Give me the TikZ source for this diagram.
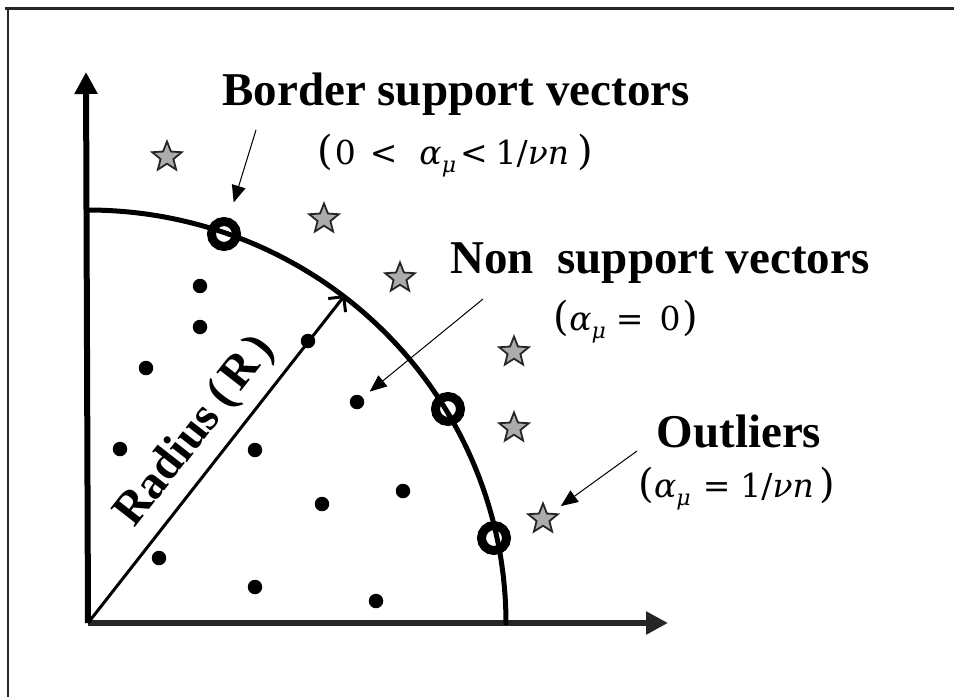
\documentclass[tikz,border=0pt]{standalone}
\usepackage{fontspec}
\setmainfont{Liberation Serif}
\newfontfamily\fmf{DejaVu Serif}
\usetikzlibrary{arrows.meta,shapes.geometric}
\newcommand\amu{\textit{α}\raisebox{-0.25em}{\fontsize{22}{24}\selectfont\textit{μ}}}
\newcommand\hs[1]{\hspace*{#1pt}}
\newcommand\lp{{\fontsize{40}{44}\selectfont(}}
\newcommand\rp{{\fontsize{40}{44}\selectfont)}}
\tikzset{
  title/.style={font=\fontsize{47}{52}\selectfont\bfseries, inner sep=0pt},
  formula/.style={font=\fmf\fontsize{33}{38}\selectfont, inner sep=0pt},
  dot/.style={circle, fill=black, inner sep=0pt, minimum size=14.5pt},
  ring/.style={circle, draw=black, line width=9pt, inner sep=0pt, minimum size=25pt},
  starpt/.style={star, star points=5, star point ratio=2.3, fill=gray!65, draw=black!85,
                 line width=1.8pt, inner sep=0pt, minimum size=31pt},
  pointer/.style={line width=1pt, -{Triangle[length=17pt,width=14pt]}},
  axis/.style={line width=6pt, -{Triangle[length=22pt,width=22pt]}},
  radarrow/.style={line width=3pt, -{Straight Barb[length=11pt,width=22pt]}},
  frameline/.style={draw=black!85, line width=3pt}
}
\begin{document}
\begin{tikzpicture}[x=1pt,y=-1pt]
\useasboundingbox (0,0) rectangle (954,697);
% frame
\draw[frameline] (5,8.5) -- (954,8.5);
\draw[frameline, line width=2.5pt] (8,8) -- (8,697);
% axes
\coordinate (O) at (88,623);
\coordinate (ytip) at (86,72);
\coordinate (xtip) at (668,623);
\draw[axis] (O) -- (ytip);
\draw[axis, black!85] (O) -- (xtip);
% boundary arc
\draw[line width=5pt, line cap=round] plot[domain=90:0, samples=80, smooth]
  ({88+418*cos(\x)},{623-413*sin(\x)});
% radius
\coordinate (Rend) at (345,295);
\draw[radarrow] (O) -- (Rend);
\node[title, rotate=52] (rlabel) at (196,432) {Radius\hs{10}(\hs{6}R\hs{6})};
% inner points
\foreach \n/\p in {d1/{(200,286)}, d2/{(200,327)}, d3/{(146,368)}, d4/{(308,341)},
                   d5/{(357,402)}, d6/{(120,449)}, d7/{(255,450)}, d8/{(403,491)},
                   d9/{(322,504)}, d10/{(159,558)}, d11/{(255,587)}, d12/{(376,601)}}
  \node[dot] (\n) at \p {};
% border support vectors
\node[ring] (r1) at (224,234) {};
\node[ring] (r2) at (448,409) {};
\node[ring] (r3) at (494,538) {};
% outliers
\foreach \n/\p in {s1/{(167,157)}, s2/{(324,219)}, s3/{(400,278)}, s4/{(514,352)},
                   s5/{(514,428)}, s6/{(543,519)}}
  \node[starpt] (\n) at \p {};
% labels
\node[title, anchor=base] (bsv) at (456,105) {Border support vectors};
\node[formula, anchor=base] (bsvf) at (455,164)
  {\lp\hs{2}0\hs{14}<\hs{22}\amu\hs{4}<\hs{8}1/\textit{νn}\hs{8}\rp};
\node[title, anchor=base] (nsv) at (660,273) {Non\ \ support vectors};
\node[formula, anchor=base] (nsvf) at (626,330) {\lp\amu\hs{10}=\hs{16}0\hs{2}\rp};
\node[title, anchor=base] (out) at (739,447) {Outliers};
\node[formula, anchor=base] (outf) at (737,497) {\lp\amu\hs{12}=\hs{10}1/\textit{νn}\hs{6}\rp};
% pointers
\coordinate (p1) at (256,130);
\coordinate (p2) at (483,299);
\coordinate (p3) at (637,451);
\draw[pointer, shorten >=16pt] (p1) -- (r1);
\draw[pointer, shorten >=9pt] (p2) -- (d5);
\draw[pointer, shorten >=22pt] (p3) -- (s6.center);
\end{tikzpicture}
\end{document}
